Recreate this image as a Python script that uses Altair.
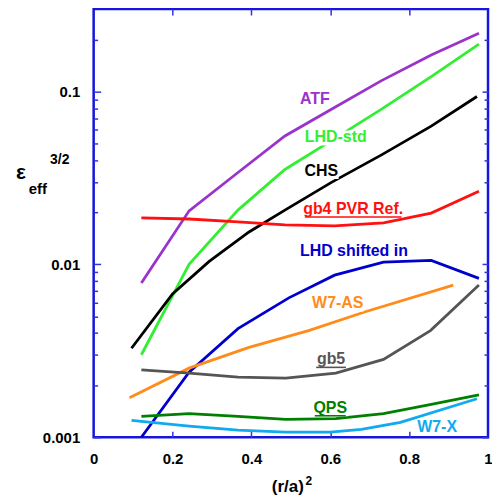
import altair as alt
import pandas as pd

# ---- data ----
series = ["ATF", "LHD-std", "CHS", "gb4 PVR Ref.", "LHD shifted in",
          "W7-AS", "gb5", "QPS", "W7-X"]
colors = ["#9933cc", "#33ee33", "#000000", "#ff1111", "#0000cc",
          "#ff8c1a", "#555555", "#008000", "#11aaee"]

x_atf = [0.121, 0.242, 0.366, 0.485, 0.603, 0.730, 0.856, 0.977]
y_atf = [0.0078, 0.0204, 0.034, 0.0553, 0.079, 0.1156, 0.1626, 0.217]

x_lhd = [0.121, 0.242, 0.366, 0.485, 0.603, 0.730, 0.856, 0.977]
y_lhd = [0.0030, 0.0100, 0.0206, 0.0354, 0.052, 0.079, 0.122, 0.188]

x_chs = [0.096, 0.200, 0.293, 0.394, 0.485, 0.603, 0.730, 0.856, 0.972]
y_chs = [0.00327, 0.00675, 0.0104, 0.0154, 0.0206, 0.0298, 0.043, 0.063, 0.0935]

x_gb4 = [0.121, 0.242, 0.366, 0.485, 0.611, 0.735, 0.856, 0.977]
y_gb4 = [0.0186, 0.0183, 0.0176, 0.0169, 0.0167, 0.0174, 0.0198, 0.0265]

x_lhds = [0.121, 0.242, 0.366, 0.495, 0.611, 0.735, 0.856, 0.977]
y_lhds = [0.0010, 0.00238, 0.00425, 0.0064, 0.00866, 0.0103, 0.01054, 0.0083]

x_w7as = [0.091, 0.242, 0.394, 0.545, 0.689, 0.912]
y_w7as = [0.00169, 0.00251, 0.00331, 0.00414, 0.00532, 0.00759]

x_gb5 = [0.121, 0.242, 0.366, 0.487, 0.614, 0.735, 0.854, 0.977]
y_gb5 = [0.00245, 0.00235, 0.00223, 0.0022, 0.00235, 0.00282, 0.00414, 0.00759]

x_qps = [0.121, 0.242, 0.366, 0.487, 0.614, 0.735, 0.856, 0.977]
y_qps = [0.00132, 0.00137, 0.00132, 0.00127, 0.00128, 0.00137, 0.00155, 0.00176]

x_w7x = [0.096, 0.242, 0.366, 0.487, 0.600, 0.679, 0.778, 0.972]
y_w7x = [0.00125, 0.00116, 0.0011, 0.00107, 0.00107, 0.00111, 0.00122, 0.00167]

# label anchor points (data units)
label_x = [0.561, 0.614, 0.577, 0.658, 0.660, 0.619, 0.602, 0.600, 0.871]
label_y = [0.091, 0.0546, 0.0349, 0.0209, 0.0120, 0.00598, 0.00282, 0.00148, 0.00114]
label_box_width = [34, 66, 35, 101, 110, 52, 33, 35, 42]
underlined = ["gb4 PVR Ref.", "gb5", "QPS"]
underline_width = [97, 30, 31]

x_ticks = [0, 0.2, 0.4, 0.6, 0.8, 1]
x_inner_ticks = [0.2, 0.4, 0.6, 0.8]
y_major = [0.001, 0.01, 0.1]
y_minor = [0.002, 0.003, 0.004, 0.005, 0.006, 0.007, 0.008, 0.009,
           0.02, 0.03, 0.04, 0.05, 0.06, 0.07, 0.08, 0.09, 0.2]

# ---- build ----
xs_all = [x_atf, x_lhd, x_chs, x_gb4, x_lhds, x_w7as, x_gb5, x_qps, x_w7x]
ys_all = [y_atf, y_lhd, y_chs, y_gb4, y_lhds, y_w7as, y_gb5, y_qps, y_w7x]
rows = []
for name, xs, ys in zip(series, xs_all, ys_all):
    for x, y in zip(xs, ys):
        rows.append({"series": name, "x": x, "y": y})
df = pd.DataFrame(rows)

lab = pd.DataFrame({"series": series, "text": series, "lx": label_x, "ly": label_y})

W, H = 396, 430
FONT = "Liberation Sans"
TICK_COLOR = "#3333dd"
color_scale = alt.Scale(domain=series, range=colors)
yscale = alt.Scale(type="log", domain=[0.001, 0.3], nice=False)
xscale = alt.Scale(domain=[0, 1], nice=False, zero=False)

lines = alt.Chart(df).mark_line(strokeWidth=2.8, clip=True).encode(
    x=alt.X("x:Q", scale=xscale,
            axis=alt.Axis(orient="bottom", values=x_ticks, format="~g", ticks=False,
                          domain=False, grid=False, title=None, labelFont=FONT,
                          labelFontWeight="bold", labelFontSize=15, labelPadding=14,
                          labelColor="black", labelFlush=False, labelOverlap=False)),
    y=alt.Y("y:Q", scale=yscale,
            axis=alt.Axis(orient="left", values=y_major, format="~g", ticks=False,
                          domain=False, grid=False, title=None, labelFont=FONT,
                          labelFontWeight="bold", labelFontSize=15, labelPadding=14,
                          labelColor="black", labelFlush=False, labelOverlap=False)),
    color=alt.Color("series:N", scale=color_scale, legend=None),
)


def tick_layer(vals, channel, orient, offset, size):
    d = pd.DataFrame({"v": vals})
    ax = alt.Axis(orient=orient, offset=offset, values=vals, tickSize=size,
                  labels=False, domain=False, grid=False, title=None,
                  tickColor=TICK_COLOR, tickWidth=1.5)
    if channel == "y":
        enc = {"y": alt.Y("v:Q", scale=yscale, axis=ax)}
    else:
        enc = {"x": alt.X("v:Q", scale=xscale, axis=ax)}
    return alt.Chart(d).mark_point(opacity=0).encode(**enc)


ticks = [
    tick_layer(y_major, "y", "right", -W, 7),
    tick_layer(y_minor, "y", "right", -W, 4),
    tick_layer(y_major, "y", "left", -W, 6),
    tick_layer(y_minor, "y", "left", -W, 4),
    tick_layer(x_inner_ticks, "x", "bottom", -H, 6),
    tick_layer(x_inner_ticks, "x", "top", -H, 6),
]

# white knock-out boxes behind the labels
boxes = []
for name, w in zip(series, label_box_width):
    boxes.append(
        alt.Chart(lab).transform_filter(alt.datum.series == name).mark_rule(
            color="white", strokeWidth=15, strokeCap="butt",
            xOffset=-w / 2, x2Offset=w / 2, yOffset=1, y2Offset=1
        ).encode(
            x=alt.X("lx:Q", scale=xscale, axis=None),
            x2="lx:Q",
            y=alt.Y("ly:Q", scale=yscale, axis=None),
        )
    )

labels = alt.Chart(lab).mark_text(font=FONT, fontWeight="bold", fontSize=16).encode(
    x=alt.X("lx:Q", scale=xscale, axis=None),
    y=alt.Y("ly:Q", scale=yscale, axis=None),
    color=alt.Color("series:N", scale=color_scale, legend=None),
    text="text:N",
)

underlines = []
for name, w in zip(underlined, underline_width):
    underlines.append(
        alt.Chart(lab).transform_filter(alt.datum.series == name).mark_rule(
            strokeWidth=1.6, xOffset=-w / 2, x2Offset=w / 2, yOffset=8, y2Offset=8
        ).encode(
            x=alt.X("lx:Q", scale=xscale, axis=None),
            x2="lx:Q",
            y=alt.Y("ly:Q", scale=yscale, axis=None),
            color=alt.Color("series:N", scale=color_scale, legend=None),
        )
    )


def free_text(t, px, py, size, align="center"):
    return alt.Chart(pd.DataFrame({"t": [t]})).mark_text(
        font=FONT, fontWeight="bold", fontSize=size, color="black", align=align,
        baseline="middle").encode(x=alt.value(px), y=alt.value(py), text="t:N")


titles = [
    free_text("ε", -73, 165, 21),
    free_text("eff", -56, 181, 15),
    free_text("3/2", -34, 152, 14),
    free_text("(r/a)", 195, 480, 17),
    free_text("2", 216, 474, 12),
]

chart = alt.layer(lines, *ticks, *boxes, labels, *underlines, *titles).resolve_axis(
    x="independent", y="independent"
).properties(
    width=W, height=H,
    autosize=alt.AutoSizeParams(type="none"),
    padding={"left": 86, "top": 0, "right": 4, "bottom": 59},
).configure_view(stroke="#1515dd", strokeWidth=2.5)

chart.save("out.html", embed_options={"renderer": "svg", "actions": False})
